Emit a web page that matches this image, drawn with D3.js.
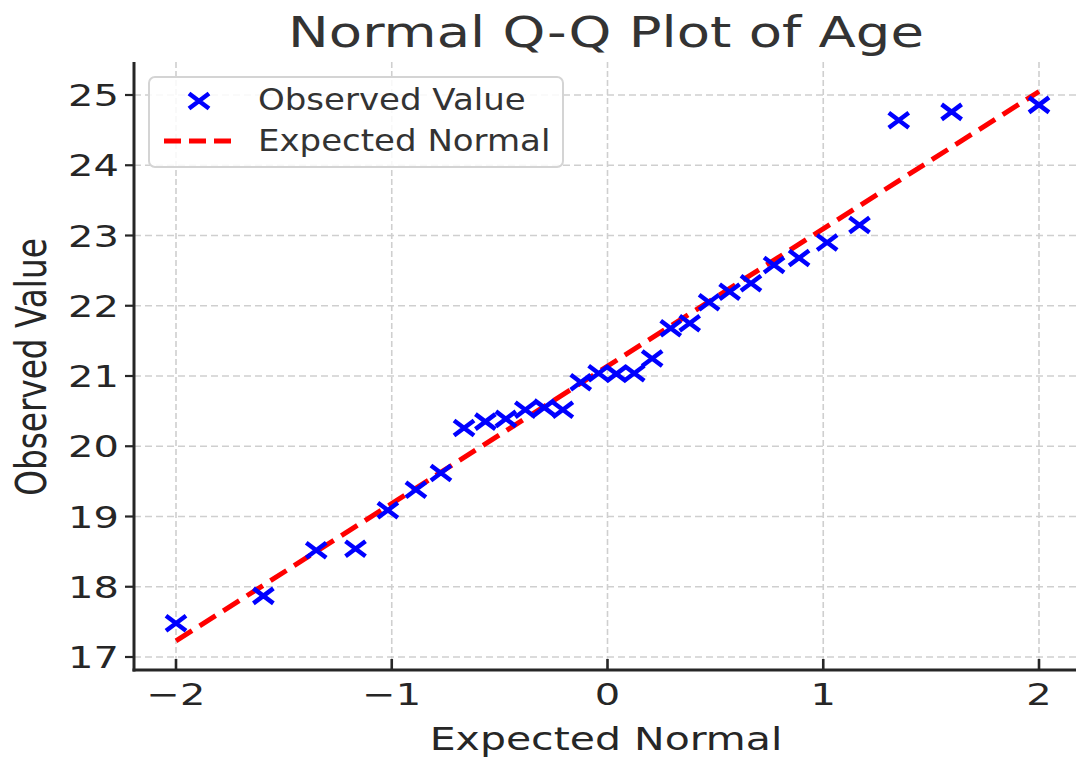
<!DOCTYPE html>
<html>
<head>
<meta charset="utf-8">
<script src="https://cdn.jsdelivr.net/npm/d3@7"></script>
<style>
  body { margin: 0; background: #fff; }
  svg { display: block; font-family: "DejaVu Sans", sans-serif; }
</style>
</head>
<body>
<svg id="chart" width="1076" height="758"></svg>
<script>
// Data
// ----
var theoretical = [-2.000, -1.595, -1.350, -1.168, -1.018, -0.888, -0.772, -0.665, -0.566, -0.471,
                   -0.381, -0.293, -0.207, -0.124, -0.041, 0.041, 0.124, 0.207, 0.293, 0.381,
                   0.471, 0.566, 0.665, 0.772, 0.888, 1.018, 1.168, 1.350, 1.595, 2.000];
var observed = [17.48, 17.87, 18.52, 18.54, 19.09, 19.38, 19.62, 20.26, 20.35, 20.39,
                20.52, 20.55, 20.52, 20.91, 21.04, 21.03, 21.04, 21.25, 21.68, 21.75,
                22.05, 22.20, 22.32, 22.58, 22.68, 22.90, 23.15, 24.64, 24.76, 24.86];
var fitX = [-2, 2];
var fitY = [17.23, 25.05];
var xTicks = [-2, -1, 0, 1, 2];
var yTicks = [17, 18, 19, 20, 21, 22, 23, 24, 25];

// Layout
// ------
var svg = d3.select("#chart");
var plotLeft = 134, plotRight = 1081, plotTop = 62, plotBottom = 670;
var sy = 0.77;  // picture is squashed vertically

var xScale = d3.scaleLinear().domain([-2, 2]).range([176, 1039]);
var yScale = d3.scaleLinear().domain([17, 25]).range([657, 95]);

function label(g, txt, x, y, size, anchor, color, extra, scaleY) {
  return g.append("text")
    .attr("transform", "translate(" + x + "," + y + ") scale(1," + (scaleY || sy) + ")" + (extra || ""))
    .attr("text-anchor", anchor)
    .attr("font-size", size)
    .attr("fill", color)
    .text(txt);
}

// Grid
// ----
var grid = svg.append("g");
grid.selectAll(".gx").data(xTicks).enter().append("line")
  .attr("x1", function(d) { return xScale(d); })
  .attr("x2", function(d) { return xScale(d); })
  .attr("y1", plotTop).attr("y2", plotBottom)
  .attr("stroke", "#cfcfcf").attr("stroke-width", 1.6)
  .attr("stroke-dasharray", "6,3");
grid.selectAll(".gy").data(yTicks).enter().append("line")
  .attr("y1", function(d) { return yScale(d); })
  .attr("y2", function(d) { return yScale(d); })
  .attr("x1", plotLeft).attr("x2", plotRight)
  .attr("stroke", "#cfcfcf").attr("stroke-width", 1.4)
  .attr("stroke-dasharray", "7,4");

// Fit line
// --------
var line = d3.line()
  .x(function(d) { return xScale(d[0]); })
  .y(function(d) { return yScale(d[1]); });
svg.append("path")
  .datum(d3.zip(fitX, fitY))
  .attr("d", line)
  .attr("fill", "none")
  .attr("stroke", "#ff0000")
  .attr("stroke-width", 5)
  .attr("stroke-dasharray", "19,9");

// Markers
// -------
function cross(hx, hy) {
  return "M" + (-hx) + "," + (-hy) + "L" + hx + "," + hy +
         "M" + (-hx) + "," + hy + "L" + hx + "," + (-hy);
}
svg.append("g").selectAll(".pt")
  .data(d3.zip(theoretical, observed))
  .enter().append("path")
  .attr("transform", function(d) { return "translate(" + xScale(d[0]) + "," + yScale(d[1]) + ")"; })
  .attr("d", cross(10, 7.5))
  .attr("fill", "none")
  .attr("stroke", "#0000ff")
  .attr("stroke-width", 4.5);

// Spines and ticks
// ----------------
var axes = svg.append("g").attr("stroke", "#262626");
axes.append("line").attr("x1", plotLeft).attr("x2", plotLeft).attr("y1", plotTop).attr("y2", plotBottom + 1.5)
  .attr("stroke-width", 3);
axes.append("line").attr("x1", plotLeft - 1.5).attr("x2", 1076).attr("y1", plotBottom).attr("y2", plotBottom)
  .attr("stroke-width", 3);
axes.selectAll(".ty").data(yTicks).enter().append("line")
  .attr("x1", plotLeft - 9).attr("x2", plotLeft)
  .attr("y1", function(d) { return yScale(d); })
  .attr("y2", function(d) { return yScale(d); })
  .attr("stroke-width", 2.2);
axes.selectAll(".tx").data(xTicks).enter().append("line")
  .attr("x1", function(d) { return xScale(d); })
  .attr("x2", function(d) { return xScale(d); })
  .attr("y1", plotBottom - 11).attr("y2", plotBottom)
  .attr("stroke-width", 2.6);

var texts = svg.append("g");
yTicks.forEach(function(d) {
  label(texts, d, 119, yScale(d) + 11, 40, "end", "#262626");
});
xTicks.forEach(function(d) {
  label(texts, d < 0 ? "\u2212" + Math.abs(d) : d, xScale(d), 705, 40, "middle", "#262626");
});

// Titles
// ------
label(texts, "Normal Q-Q Plot of Age", 606, 47, 54.5, "middle", "#333333");
label(texts, "Expected Normal", 606, 750, 41, "middle", "#262626");
label(texts, "Observed Value", 46, 367, 42.5, "middle", "#262626", " rotate(-90)");

// Legend
// ------
var legend = svg.append("g");
legend.append("rect")
  .attr("x", 149).attr("y", 77).attr("width", 414).attr("height", 90)
  .attr("rx", 6).attr("ry", 6)
  .attr("fill", "#ffffff").attr("fill-opacity", 0.85)
  .attr("stroke", "#d4d4d4").attr("stroke-width", 2);
legend.append("path")
  .attr("transform", "translate(199,101)")
  .attr("d", cross(10, 7.5))
  .attr("fill", "none").attr("stroke", "#0000ff").attr("stroke-width", 4.5);
legend.append("line")
  .attr("x1", 164).attr("x2", 232).attr("y1", 141).attr("y2", 141)
  .attr("stroke", "#ff0000").attr("stroke-width", 5)
  .attr("stroke-dasharray", "17,8");
label(legend, "Observed Value", 258, 110, 34, "start", "#333333", "", 0.88);
label(legend, "Expected Normal", 258, 151, 34, "start", "#333333", "", 0.88);
</script>
</body>
</html>
